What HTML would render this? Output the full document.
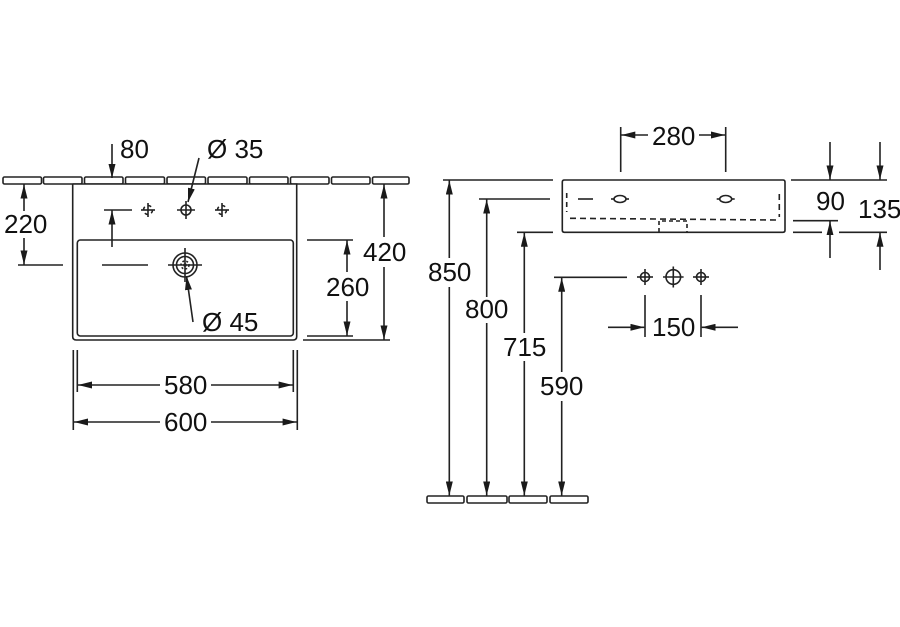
<!DOCTYPE html>
<html>
<head>
<meta charset="utf-8">
<style>
html,body{margin:0;padding:0;background:#fff;}
svg{display:block;}
text{font-family:"Liberation Sans",Arial,sans-serif;font-size:26px;fill:#111;}
</style>
</head>
<body>
<svg width="900" height="627" viewBox="0 0 900 627" xmlns="http://www.w3.org/2000/svg">
<defs>
<marker id="a" viewBox="0 0 14 7" refX="14" refY="3.5" markerWidth="14" markerHeight="7" orient="auto" markerUnits="userSpaceOnUse">
<path d="M0,0 L14,3.5 L0,7 z" fill="#1a1a1a"/>
</marker>
</defs>
<g stroke="#222" stroke-width="1.6" fill="none">
<!-- LEFT VIEW tiles -->
<rect x="3" y="177" width="38.5" height="7" rx="1.5"/>
<rect x="43.5" y="177" width="38.5" height="7" rx="1.5"/>
<rect x="84.5" y="177" width="38.5" height="7" rx="1.5"/>
<rect x="125.5" y="177" width="39" height="7" rx="1.5"/>
<rect x="167" y="177" width="38.5" height="7" rx="1.5"/>
<rect x="208" y="177" width="39" height="7" rx="1.5"/>
<rect x="249.5" y="177" width="38.5" height="7" rx="1.5"/>
<rect x="290.5" y="177" width="38.5" height="7" rx="1.5"/>
<rect x="331.5" y="177" width="38.5" height="7" rx="1.5"/>
<rect x="372.5" y="177" width="36.5" height="7" rx="1.5"/>

<!-- basin outer -->
<path d="M72.7,184 V336.5 Q72.7,340 76.2,340 H293.2 Q296.7,340 296.7,336.5 V184 H72.7" fill="#fff"/>
<rect x="77.3" y="240" width="216" height="96" rx="3"/>

<!-- 80 dim -->
<line x1="112" y1="144" x2="112" y2="178" marker-end="url(#a)"/>
<line x1="112" y1="247" x2="112" y2="210.5" marker-end="url(#a)"/>
<line x1="104" y1="210" x2="132" y2="210"/>

<!-- tap holes top view -->
<circle cx="148" cy="210" r="4.5" stroke-dasharray="3.5 3.5"/>
<line x1="141" y1="210" x2="155" y2="210"/>
<line x1="148" y1="203" x2="148" y2="217"/>
<circle cx="186" cy="210" r="5"/>
<line x1="177" y1="210" x2="195" y2="210"/>
<line x1="186" y1="201" x2="186" y2="219"/>
<circle cx="222" cy="210" r="4.5" stroke-dasharray="3.5 3.5"/>
<line x1="215" y1="210" x2="229" y2="210"/>
<line x1="222" y1="203" x2="222" y2="217"/>
<line x1="199" y1="158" x2="188" y2="202" marker-end="url(#a)"/>

<!-- drain -->
<circle cx="185" cy="265" r="12"/>
<circle cx="185" cy="265" r="8.5"/>
<circle cx="185" cy="265" r="4" stroke-dasharray="2 2"/>
<circle cx="185" cy="265" r="1" fill="#222"/>
<line x1="168" y1="265" x2="202" y2="265"/>
<line x1="185" y1="248" x2="185" y2="282"/>
<line x1="193" y1="322" x2="186.5" y2="276" marker-end="url(#a)"/>
<line x1="102" y1="265" x2="148" y2="265"/>

<!-- 220 dim -->
<line x1="18" y1="265" x2="63" y2="265"/>
<line x1="24" y1="211" x2="24" y2="184.5" marker-end="url(#a)"/>
<line x1="24" y1="238" x2="24" y2="264.5" marker-end="url(#a)"/>

<!-- 260 dim -->
<line x1="307" y1="240" x2="353" y2="240"/>
<line x1="307" y1="336" x2="353" y2="336"/>
<line x1="347" y1="272" x2="347" y2="240.5" marker-end="url(#a)"/>
<line x1="347" y1="301" x2="347" y2="335.5" marker-end="url(#a)"/>

<!-- 420 dim -->
<line x1="303" y1="340" x2="390" y2="340"/>
<line x1="384" y1="237" x2="384" y2="184.5" marker-end="url(#a)"/>
<line x1="384" y1="267" x2="384" y2="339.5" marker-end="url(#a)"/>

<!-- 580 / 600 -->
<line x1="73.3" y1="350" x2="73.3" y2="430"/>
<line x1="77.3" y1="350" x2="77.3" y2="392"/>
<line x1="293.3" y1="350" x2="293.3" y2="392"/>
<line x1="297.3" y1="350" x2="297.3" y2="430"/>
<line x1="160" y1="385" x2="78" y2="385" marker-end="url(#a)"/>
<line x1="211" y1="385" x2="292.6" y2="385" marker-end="url(#a)"/>
<line x1="160" y1="422" x2="74" y2="422" marker-end="url(#a)"/>
<line x1="211" y1="422" x2="296.6" y2="422" marker-end="url(#a)"/>

<!-- RIGHT VIEW -->
<path d="M562.3,182 Q562.3,180 564.3,180 H783 Q785,180 785,182 V230.3 Q785,232.3 783,232.3 H564.3 Q562.3,232.3 562.3,230.3 Z"/>
<ellipse cx="620" cy="199" rx="6" ry="3.5"/>
<line x1="611" y1="199" x2="614" y2="199"/>
<line x1="626" y1="199" x2="629" y2="199"/>
<ellipse cx="725.7" cy="199" rx="6" ry="3.5"/>
<line x1="716.7" y1="199" x2="719.7" y2="199"/>
<line x1="731.7" y1="199" x2="734.7" y2="199"/>
<line x1="566.7" y1="193" x2="566.7" y2="212" stroke-dasharray="5 4"/>
<line x1="578" y1="199" x2="593" y2="199"/>
<line x1="779.3" y1="194" x2="779.3" y2="217" stroke-dasharray="6 4"/>
<line x1="570" y1="218.3" x2="776" y2="220" stroke-dasharray="6 4"/>
<path d="M659,232 V221 H687 V232" stroke-dasharray="4 3"/>

<!-- left ext lines -->
<line x1="443" y1="180" x2="553" y2="180"/>
<line x1="479" y1="199" x2="550" y2="199"/>
<line x1="517" y1="232.3" x2="553" y2="232.3"/>
<line x1="554" y1="277.3" x2="627" y2="277.3"/>

<!-- verticals -->
<line x1="449.3" y1="258" x2="449.3" y2="180.5" marker-end="url(#a)"/>
<line x1="449.3" y1="287" x2="449.3" y2="495.5" marker-end="url(#a)"/>
<line x1="486.7" y1="297" x2="486.7" y2="199.5" marker-end="url(#a)"/>
<line x1="486.7" y1="323" x2="486.7" y2="495.5" marker-end="url(#a)"/>
<line x1="524.3" y1="333" x2="524.3" y2="232.8" marker-end="url(#a)"/>
<line x1="524.3" y1="361" x2="524.3" y2="495.5" marker-end="url(#a)"/>
<line x1="561.7" y1="372" x2="561.7" y2="277.8" marker-end="url(#a)"/>
<line x1="561.7" y1="401" x2="561.7" y2="495.5" marker-end="url(#a)"/>

<!-- floor tiles -->
<rect x="427" y="496" width="37" height="7" rx="1.5"/>
<rect x="467" y="496" width="40" height="7" rx="1.5"/>
<rect x="509" y="496" width="38" height="7" rx="1.5"/>
<rect x="550" y="496" width="38" height="7" rx="1.5"/>

<!-- 280 dim -->
<line x1="620.7" y1="127" x2="620.7" y2="172"/>
<line x1="725.7" y1="127" x2="725.7" y2="172"/>
<line x1="648" y1="135" x2="621.3" y2="135" marker-end="url(#a)"/>
<line x1="699" y1="135" x2="725" y2="135" marker-end="url(#a)"/>

<!-- front taps -->
<circle cx="645" cy="277" r="4.5"/>
<line x1="637" y1="277" x2="653" y2="277"/>
<line x1="645" y1="269" x2="645" y2="285"/>
<circle cx="673.3" cy="277" r="7.3"/>
<line x1="663" y1="277" x2="683.6" y2="277"/>
<line x1="673.3" y1="266.5" x2="673.3" y2="287.5"/>
<circle cx="701" cy="277" r="4.5"/>
<line x1="693" y1="277" x2="709" y2="277"/>
<line x1="701" y1="269" x2="701" y2="285"/>

<!-- 150 dim -->
<line x1="645" y1="295" x2="645" y2="337"/>
<line x1="701" y1="295" x2="701" y2="337"/>
<line x1="608" y1="327.3" x2="644.4" y2="327.3" marker-end="url(#a)"/>
<line x1="738" y1="327.3" x2="701.6" y2="327.3" marker-end="url(#a)"/>

<!-- 90 / 135 -->
<line x1="791" y1="180" x2="887" y2="180"/>
<line x1="793" y1="220.7" x2="838" y2="220.7"/>
<line x1="793" y1="232.3" x2="822" y2="232.3"/>
<line x1="839" y1="232.3" x2="887" y2="232.3"/>
<line x1="830" y1="142" x2="830" y2="179.5" marker-end="url(#a)"/>
<line x1="830" y1="258" x2="830" y2="221.2" marker-end="url(#a)"/>
<line x1="880" y1="142" x2="880" y2="179.5" marker-end="url(#a)"/>
<line x1="880" y1="270" x2="880" y2="232.8" marker-end="url(#a)"/>
</g>

<!-- Labels -->
<text x="120" y="158">80</text>
<text x="207" y="158">Ø 35</text>
<text x="4" y="233">220</text>
<text x="363" y="261">420</text>
<text x="326" y="296">260</text>
<text x="202" y="331">Ø 45</text>
<text x="164" y="394">580</text>
<text x="164" y="431">600</text>
<text x="652" y="145">280</text>
<text x="428" y="281">850</text>
<text x="465" y="318">800</text>
<text x="503" y="356">715</text>
<text x="540" y="395">590</text>
<text x="652" y="336">150</text>
<text x="816" y="210">90</text>
<text x="858" y="218">135</text>
</svg>
</body>
</html>
